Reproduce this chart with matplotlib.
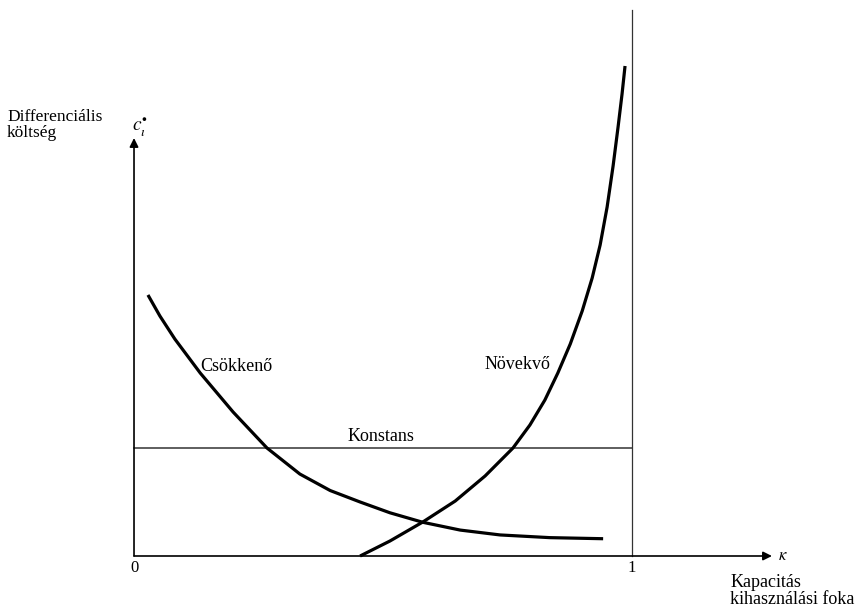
import matplotlib
matplotlib.use("Agg")
import matplotlib.pyplot as plt

# ---- data ----
decr_x = [0.028, 0.052, 0.082, 0.133, 0.199, 0.267, 0.333, 0.394, 0.454, 0.514, 0.580, 0.655, 0.735, 0.835, 0.942]
decr_y = [2.417, 2.222, 2.009, 1.694, 1.333, 1.000, 0.759, 0.606, 0.500, 0.400, 0.312, 0.240, 0.195, 0.170, 0.160]

incr_x = [0.454, 0.514, 0.580, 0.645, 0.705, 0.761, 0.795, 0.825, 0.851, 0.876, 0.900, 0.920, 0.936, 0.950, 0.962, 0.972, 0.980, 0.986]
incr_y = [0.000, 0.139, 0.315, 0.509, 0.741, 1.000, 1.213, 1.444, 1.694, 1.963, 2.269, 2.574, 2.880, 3.231, 3.611, 3.972, 4.278, 4.537]

const_x = [0.0, 1.0]
const_y = [1.0, 1.0]

x_ticks = [0, 1]
x_tick_labels = ["0", "1"]

curve_labels = ["Csökkenő", "Növekvő", "Konstans"]

# ---- figure ----
plt.rcParams['font.family'] = ['Liberation Serif', 'DejaVu Serif']
plt.rcParams['mathtext.fontset'] = 'stix'

fig = plt.figure(figsize=(8.6, 6.1), dpi=100)
ax = fig.add_axes([0, 0, 1, 1])
ax.set_xlim(-0.2691, 1.4578)
ax.set_ylim(-0.5, 5.148)
ax.axis('off')

# axes with arrows
ax.annotate('', xy=(0, 3.87), xytext=(0, 0),
            arrowprops=dict(arrowstyle='-|>', lw=1.2, color='black', mutation_scale=13, shrinkA=0, shrinkB=0))
ax.annotate('', xy=(1.281, 0), xytext=(0, 0),
            arrowprops=dict(arrowstyle='-|>', lw=1.2, color='black', mutation_scale=13, shrinkA=0, shrinkB=0))

# vertical line at x = 1
ax.plot([1.0, 1.0], [0, 5.056], color='#333333', lw=0.9)

# constant
ax.plot(const_x, const_y, color='#333333', lw=1.1)

# curves
ax.plot(decr_x, decr_y, color='black', lw=2.3, solid_capstyle='butt', solid_joinstyle='round')
ax.plot(incr_x, incr_y, color='black', lw=2.3, solid_capstyle='butt', solid_joinstyle='round')

# curve labels
ax.text(0.205, 1.755, curve_labels[0], fontsize=13, ha='center', va='center')
ax.text(0.769, 1.77, curve_labels[1], fontsize=13, ha='center', va='center')
ax.text(0.496, 1.11, curve_labels[2], fontsize=13, ha='center', va='center')

# tick labels
for xv, lab in zip(x_ticks, x_tick_labels):
    ax.text(xv, -0.11, lab, fontsize=12, ha='center', va='center')

# axis labels
ax.text(1.303, 0.0, r'$\kappa$', fontsize=12, ha='center', va='center')
ax.text(1.197, -0.25, "Kapacitás", fontsize=13, ha='left', va='center')
ax.text(1.197, -0.40, "kihasználási foka", fontsize=13, ha='left', va='center')

ax.text(-0.255, 3.99, "Differenciális\nköltség", fontsize=12.5, ha='left', va='center', linespacing=1.0)
ax.text(0.013, 3.97, r'$c_{\iota}^{\bullet}$', fontsize=14, ha='center', va='center')

fig.savefig("out.png", dpi=100)
